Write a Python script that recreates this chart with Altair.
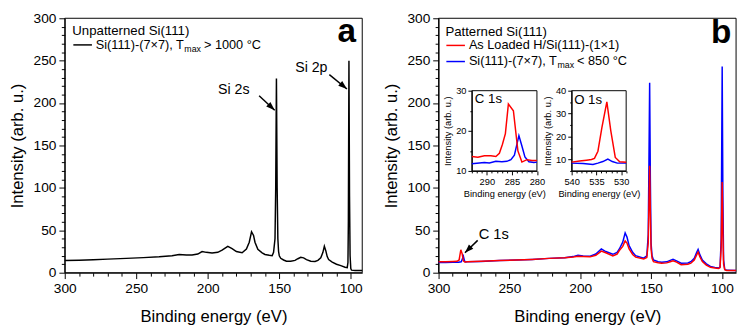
import altair as alt
import pandas as pd

FONT = "Liberation Sans"

# ---------------- data ----------------
# Panel a : unpatterned Si(111)-(7x7)
a_energy = [300, 290, 280, 270, 257, 245, 234, 225, 220, 215, 211, 207, 204, 201, 197, 193,
            190, 186, 183, 180, 176, 173, 171, 169.4, 168, 167, 165, 162, 160, 157, 155, 154,
            153, 152.5, 152, 151.5, 151, 150.5, 150, 149, 147, 145, 142, 139, 137, 135, 133,
            131, 128, 125, 123, 121, 119.5, 118.5, 117.5, 116.5, 115.5, 113, 110, 107, 104,
            102.5, 102, 101.7, 101.3, 100.9, 100.5, 100, 99.5, 97, 92]
a_intensity = [14.3, 14.8, 15.4, 16.0, 16.9, 17.8, 18.8, 20.0, 21.5, 21.0, 20.8, 22.0, 25.0, 24.0, 23.3, 24.0,
               26.5, 31.0, 28.5, 25.0, 23.6, 28.0, 36.0, 48.3, 44, 36, 27.5, 23.5, 21.5, 20.5, 20.0, 24,
               40, 100, 229, 100, 40, 25, 20, 17, 15, 13.5, 13.5, 14.5, 16.5, 18.1, 17.5,
               15.5, 13.5, 13.2, 14.5, 17.5, 24, 31.3, 26, 19, 15.5, 12.5, 10, 8.3, 6.5,
               6, 12, 60, 250, 90, 20, 5, 3, 2.6, 2.5]

# Panel b : patterned Si(111)
b_loaded_energy = [300, 295, 290, 287, 285.5, 284.3, 283.3, 282.5, 281.5, 279.8, 270, 257, 245, 234, 222,
                   211, 205, 201.6, 198, 193, 189, 185.1, 182, 177, 174, 172.4, 170, 168.3, 167, 165.5,
                   163, 160.9, 155.2, 153, 152, 151.5, 151, 150.5, 150, 149.3, 148.3, 145, 142.5, 139,
                   136.5, 134.5, 132, 128.8, 124, 121.9, 119.5, 117.8, 116.8, 115.5, 113.8, 111, 108.1,
                   105, 102.3, 101.3, 100.5, 99.8, 99.3, 98.8, 98, 96.6, 90]
b_loaded = [13.0, 13.0, 13.3, 13.5, 15, 27, 22, 14, 12.6, 13.0, 13.4, 14.3, 15.0, 15.7, 16.9,
            17.6, 18.5, 19.5, 19.2, 18.7, 20.5, 25.5, 23.5, 19.9, 22, 26.2, 31, 37.5, 35, 28.1,
            21.5, 18.4, 16.1, 18, 35, 80, 126, 70, 28, 17, 13, 11.8, 11.2, 11.6,
            13, 14, 12.5, 9.4, 10, 11.2, 15, 21, 24.4, 18.5, 13.1, 9, 6.4,
            5.5, 4.9, 6, 30, 107, 45, 10, 3.5, 2.6, 2.5]
b_7x7_energy = [300, 295, 290, 286, 284, 283.3, 282.5, 281.7, 281, 279.8, 270, 257, 245, 234, 222,
                211, 205, 201.6, 198, 193, 189, 185.1, 182, 177, 174, 172.4, 170, 168.3, 167, 165.5,
                163, 160.9, 155.2, 153, 152, 151.5, 151, 150.5, 150, 149.3, 148.3, 145, 142.5, 139,
                136.5, 134.5, 132, 128.8, 124, 121.9, 119.5, 117.8, 116.8, 115.5, 113.8, 111, 108.1,
                105, 102.3, 101.3, 100.5, 99.8, 99.3, 98.8, 98, 96.6, 90]
b_7x7 = [12.0, 12.1, 12.3, 12.4, 12.8, 16, 19.5, 14, 12.6, 12.8, 13.3, 14.3, 15.0, 15.7, 16.9,
         17.6, 19.0, 20.6, 19.8, 19.5, 22, 28.1, 25, 21.7, 24, 28, 36, 46.9, 42, 31.9,
         24, 20.1, 17.2, 20, 45, 130, 224, 110, 35, 20, 15, 13, 12.4, 12.8,
         14.5, 15.7, 14, 11.2, 11.5, 13, 17, 24, 27.4, 21, 15, 10.5, 7.5,
         6.3, 5.6, 7, 40, 243, 90, 15, 4, 2.8, 2.5]

# Inset C 1s
c_loaded_energy = [293, 291.8, 290.5, 289.2, 288.2, 287.5, 286.9, 286.3, 285.7, 284.7, 283.8, 283, 282, 281, 280]
c_loaded = [13.6, 13.4, 13.8, 13.8, 13.6, 14.4, 16.6, 19.3, 26.7, 25.0, 15.0, 12.2, 12.8, 12.6, 12.6]
c_7x7_energy = [293, 291.5, 290.5, 289.5, 288.2, 287, 286, 285.2, 284.5, 283.6, 283, 282.4, 281.6, 280.6, 280]
c_7x7 = [11.8, 12.0, 12.1, 12.0, 12.4, 12.3, 12.4, 12.8, 13.9, 18.8, 16.2, 13.5, 12.3, 12.1, 12.2]

# Inset O 1s
o_loaded_energy = [540, 538.4, 537, 536, 535.4, 534.7, 533.9, 532.9, 532.1, 531.2, 530.3, 529]
o_loaded = [8.85, 9.3, 9.7, 10.0, 10.5, 13.6, 23.9, 35.1, 22.5, 10.9, 9.0, 8.8]
o_7x7_energy = [540, 537.7, 535.7, 534.7, 533.7, 532.7, 531.8, 530.8, 529]
o_7x7 = [8.4, 8.2, 7.8, 8.4, 9.1, 10.2, 9.1, 8.4, 8.4]

# axis domains
a_x_domain = [300, 92]
b_x_domain = [300, 90]
main_y_domain = [0, 300]
c_x_domain = [293, 280]
c_y_domain = [10, 30]
o_x_domain = [540, 529]
o_y_domain = [5, 40]

# texts
a_header = ["Unpatterned Si(111)"]
b_header = ["Patterned Si(111)"]
legend_7x7 = ["Si(111)-(7×7), T", "max"]
a_legend_tail = ["> 1000 °C"]
b_legend_tail = ["< 850 °C"]
b_loaded_label = ["As Loaded H/Si(111)-(1×1)"]
peak_labels_a = ["Si 2s", "Si 2p"]
X_TITLE = "Binding energy (eV)"
Y_TITLE = "Intensity (arb. u.)"

RED = "#ff0000"
BLUE = "#0000ff"
ARROW = "M0,0L0.7,2L-0.7,2Z"


def scale(domain, rng):
    return alt.Scale(domain=domain, range=rng, nice=False, zero=False)


H = 266
# pixel placement of the four plotting frames
A_X = scale(a_x_domain, [49, 353])
A_Y = scale(main_y_domain, [H, 6])
B_X = scale(b_x_domain, [431, 735])
B_Y = scale(main_y_domain, [H, 6])
C_X = scale(c_x_domain, [465, 531.5])
C_Y = scale(c_y_domain, [162, 80])
O_X = scale(o_x_domain, [567, 622.7])
O_Y = scale(o_y_domain, [162, 80])


def axis(orient, offset, values, major, big, small, fs, tfs, title, tpad, lpad):
    return alt.Axis(orient=orient, offset=offset, values=values, title=title,
                    labelExpr=f"datum.value % {major} === 0 ? datum.label : ''",
                    tickSize={"condition": {"test": f"datum.value % {major} === 0", "value": big},
                              "value": small},
                    grid=False, labelFlush=False, labelOverlap=False,
                    labelFont=FONT, labelFontSize=fs, titleFont=FONT, titleFontSize=tfs,
                    titleFontWeight="normal", titlePadding=tpad, labelPadding=lpad,
                    domainColor="black", tickColor="black", labelColor="black",
                    titleColor="black", domainWidth=1, tickWidth=1)


def series(energy, inten, color, xs, ys, xaxis=None, yaxis=None, width=1.5):
    df = pd.DataFrame({"E": energy, "I": inten})
    xenc = alt.X("E:Q", scale=xs, axis=xaxis) if xaxis is not None else alt.X("E:Q", scale=xs, axis=None)
    yenc = alt.Y("I:Q", scale=ys, axis=yaxis) if yaxis is not None else alt.Y("I:Q", scale=ys, axis=None)
    return alt.Chart(df).mark_line(color=color, strokeWidth=width, interpolate="linear").encode(
        x=xenc, y=yenc, order="E:Q")


def frame(xd, yd, xs, ys):
    df = pd.DataFrame({"x0": [xd[0]], "x1": [xd[1]], "y0": [yd[0]], "y1": [yd[1]]})
    return alt.Chart(df).mark_rect(fillOpacity=0, stroke="black", strokeWidth=1).encode(
        x=alt.X("x0:Q", scale=xs, axis=None), x2="x1:Q",
        y=alt.Y("y0:Q", scale=ys, axis=None), y2="y1:Q")


def text(E, I, t, xs, ys, **kw):
    df = pd.DataFrame({"E": E, "I": I, "t": t})
    props = dict(font=FONT, color="black")
    props.update(kw)
    return alt.Chart(df).mark_text(**props).encode(
        x=alt.X("E:Q", scale=xs, axis=None), y=alt.Y("I:Q", scale=ys, axis=None), text="t:N")


def hrule(E0, E1, I, color, xs, ys):
    df = pd.DataFrame({"E0": [E0], "E1": [E1], "I": [I]})
    return alt.Chart(df).mark_rule(color=color, strokeWidth=1.5).encode(
        x=alt.X("E0:Q", scale=xs, axis=None), x2="E1:Q", y=alt.Y("I:Q", scale=ys, axis=None))


def arrows(E0, I0, E1, I1, ang, xs, ys):
    df = pd.DataFrame({"E0": E0, "I0": I0, "E1": E1, "I1": I1, "ang": ang})
    shaft = alt.Chart(df).mark_rule(color="black", strokeWidth=1.5).encode(
        x=alt.X("E0:Q", scale=xs, axis=None), x2="E1:Q",
        y=alt.Y("I0:Q", scale=ys, axis=None), y2="I1:Q")
    head = alt.Chart(df).mark_point(shape=ARROW, filled=True, color="black", size=80, opacity=1).encode(
        x=alt.X("E1:Q", scale=xs, axis=None), y=alt.Y("I1:Q", scale=ys, axis=None),
        angle=alt.Angle("ang:Q", scale=None))
    return [shaft, head]


main_x_vals = list(range(300, 99, -10))
main_y_vals = list(range(0, 301, 10))

layers = []
# ---------------- panel a ----------------
layers += [
    frame(a_x_domain, main_y_domain, A_X, A_Y),
    series(a_energy, a_intensity, "black", A_X, A_Y,
           xaxis=axis("bottom", 0, main_x_vals, 50, 6, 3.5, 14, 17, X_TITLE, 14, 3),
           yaxis=axis("left", -49, main_y_vals, 50, 6, 3.5, 14, 17, Y_TITLE, 7, 3)),
    text([294.7], [280], a_header, A_X, A_Y, align="left", baseline="alphabetic", fontSize=13.5),
    hrule(294, 281, 268.6, "black", A_X, A_Y),
    text([278.3], [268.6], [legend_7x7[0]], A_X, A_Y, align="left", baseline="middle", fontSize=13),
    text([278.3], [268.6], [legend_7x7[1]], A_X, A_Y, align="left", baseline="middle", fontSize=9,
         dx=90.5, dy=4),
    text([278.3], [268.6], a_legend_tail, A_X, A_Y, align="left", baseline="middle", fontSize=13, dx=110.5),
    text([102.8], [271.5], ["a"], A_X, A_Y, align="center", baseline="alphabetic", fontSize=34,
         fontWeight="bold"),
    text([170.8, 116.3], [211, 236.6], peak_labels_a, A_X, A_Y, align="right", baseline="alphabetic",
         fontSize=14.5),
]
layers += arrows([164.1, 115.0], [208.6, 233.6], [153.2, 102.7], [191.6, 216.6], [133, 130], A_X, A_Y)

# ---------------- panel b ----------------
layers += [
    frame(b_x_domain, main_y_domain, B_X, B_Y),
    series(b_7x7_energy, b_7x7, BLUE, B_X, B_Y,
           xaxis=axis("bottom", 0, main_x_vals, 50, 6, 3.5, 14, 17, X_TITLE, 14, 3),
           yaxis=axis("left", -431, main_y_vals, 50, 6, 3.5, 14, 17, Y_TITLE, 7, 3)),
    series(b_loaded_energy, b_loaded, RED, B_X, B_Y),
    text([295.2], [279], b_header, B_X, B_Y, align="left", baseline="alphabetic", fontSize=13.5),
    hrule(294.5, 281.4, 268, RED, B_X, B_Y),
    hrule(294.5, 281.4, 249, BLUE, B_X, B_Y),
    text([278.6], [268], b_loaded_label, B_X, B_Y, align="left", baseline="middle", fontSize=13),
    text([278.6], [249], [legend_7x7[0]], B_X, B_Y, align="left", baseline="middle", fontSize=13),
    text([278.6], [249], [legend_7x7[1]], B_X, B_Y, align="left", baseline="middle", fontSize=9,
         dx=90.5, dy=4),
    text([278.6], [249], b_legend_tail, B_X, B_Y, align="left", baseline="middle", fontSize=13, dx=110.5),
    text([100.6], [271], ["b"], B_X, B_Y, align="center", baseline="alphabetic", fontSize=34,
         fontWeight="bold"),
    text([271.7], [40], ["C 1s"], B_X, B_Y, align="left", baseline="alphabetic", fontSize=15),
]
layers += arrows([272.4], [38.1], [281.4], [23.5], [225], B_X, B_Y)

# ---------------- inset C 1s ----------------
layers += [
    frame(c_x_domain, c_y_domain, C_X, C_Y),
    series(c_7x7_energy, c_7x7, BLUE, C_X, C_Y,
           xaxis=axis("bottom", 162 - H, list(range(293, 279, -1)), 5, 4, 2, 9.5, 9.5, X_TITLE, 3, 2),
           yaxis=axis("left", -465, [10, 15, 20, 25, 30], 10, 4, 2, 9.5, 9.5, Y_TITLE, 3, 2)),
    series(c_loaded_energy, c_loaded, RED, C_X, C_Y),
    text([292.4], [26.9], ["C 1s"], C_X, C_Y, align="left", baseline="alphabetic", fontSize=13.5),
]

# ---------------- inset O 1s ----------------
layers += [
    frame(o_x_domain, o_y_domain, O_X, O_Y),
    series(o_7x7_energy, o_7x7, BLUE, O_X, O_Y,
           xaxis=axis("bottom", 162 - H, list(range(540, 528, -1)), 5, 4, 2, 9.5, 9.5, X_TITLE, 3, 2),
           yaxis=axis("left", -567, [5, 10, 15, 20, 25, 30, 35, 40], 10, 4, 2, 9.5, 9.5, Y_TITLE, 3, 2)),
    series(o_loaded_energy, o_loaded, RED, O_X, O_Y),
    text([539.5], [34.1], ["O 1s"], O_X, O_Y, align="left", baseline="alphabetic", fontSize=13.5),
]

chart = alt.layer(*layers).resolve_scale(
    x="independent", y="independent"
).resolve_axis(
    x="independent", y="independent"
).properties(
    width=735, height=H, background="white", padding=0
).configure_view(stroke="transparent")

chart.save("out.html", embed_options={"renderer": "svg", "actions": False})
